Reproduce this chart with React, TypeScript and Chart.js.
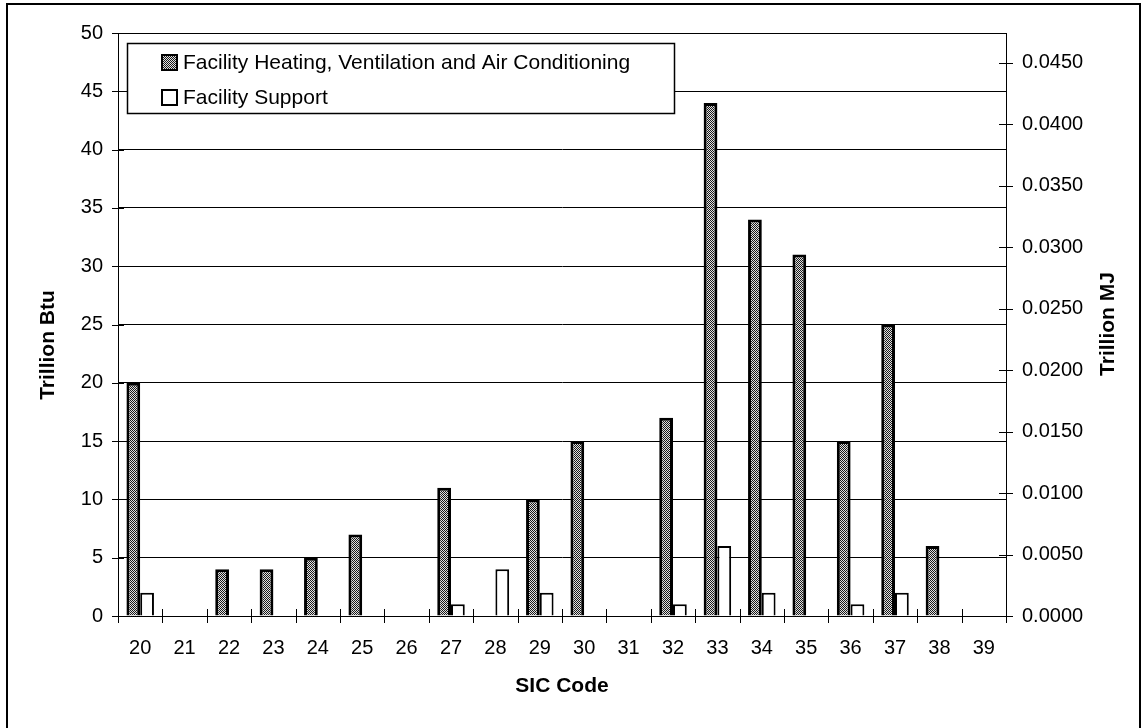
import React, { useEffect, useRef } from "react";
import { Chart, registerables } from "chart.js";

Chart.register(...registerables);

const categories = ["20","21","22","23","24","25","26","27","28","29","30","31","32","33","34","35","36","37","38","39"];
const heatingValues: (number | null)[] = [20, null, 4, 4, 5, 7, null, 11, null, 10, 15, null, 17, 44, 34, 31, 15, 25, 6, null];
const supportValues: (number | null)[] = [2, null, null, null, null, null, null, 1, 4, 2, null, null, 1, 6, 2, null, 1, 2, null, null];
const seriesLabels = ["Facility Heating, Ventilation and Air Conditioning", "Facility Support"];
const leftTicks = [0, 5, 10, 15, 20, 25, 30, 35, 40, 45, 50];
const rightTicks = [0, 0.005, 0.01, 0.015, 0.02, 0.025, 0.03, 0.035, 0.04, 0.045];

const FONT = "'Liberation Sans', Arial, sans-serif";

function makePattern(): CanvasPattern | string {
  const c = document.createElement("canvas");
  c.width = 2;
  c.height = 2;
  const g = c.getContext("2d");
  if (!g) return "#888";
  g.fillStyle = "#e0e0e0";
  g.fillRect(0, 0, 2, 2);
  g.fillStyle = "#1a1a1a";
  g.fillRect(0, 0, 1, 1);
  g.fillRect(1, 1, 1, 1);
  const p = g.createPattern(c, "repeat");
  return p || "#888";
}

export default function App() {
  const ref = useRef<HTMLCanvasElement>(null);
  useEffect(() => {
    if (!ref.current) return;
    const pattern = makePattern();
    const decor = {
      id: "decor",
      afterDraw(chart: any) {
        const ctx = chart.ctx as CanvasRenderingContext2D;
        const ca = chart.chartArea;
        const y = chart.scales.y;
        const y2 = chart.scales.y2;
        ctx.save();
        ctx.strokeStyle = "#000";
        ctx.lineWidth = 1;
        leftTicks.forEach((v) => {
          const py = Math.round(y.getPixelForValue(v)) + 0.5;
          ctx.beginPath();
          ctx.moveTo(ca.left - 6, py);
          ctx.lineTo(ca.left + 6, py);
          ctx.stroke();
        });
        rightTicks.forEach((v) => {
          const py = Math.round(y2.getPixelForValue(v)) + 0.5;
          ctx.beginPath();
          ctx.moveTo(ca.right - 7, py);
          ctx.lineTo(ca.right + 7, py);
          ctx.stroke();
        });
        const n = categories.length;
        const w = (ca.right - ca.left) / n;
        for (let i = 0; i <= n; i++) {
          const px = Math.round(ca.left + i * w) + 0.5;
          ctx.beginPath();
          ctx.moveTo(px, ca.bottom - 7);
          ctx.lineTo(px, ca.bottom + 7);
          ctx.stroke();
        }
        ctx.beginPath();
        ctx.moveTo(ca.left, ca.top + 0.5);
        ctx.lineTo(ca.right, ca.top + 0.5);
        ctx.stroke();
        // axis titles
        ctx.fillStyle = "#000";
        ctx.font = `bold 21px ${FONT}`;
        ctx.textAlign = "center";
        ctx.textBaseline = "middle";
        ctx.fillText("SIC Code", (ca.left + ca.right) / 2, 686);
        ctx.save();
        ctx.translate(48, 345);
        ctx.rotate(-Math.PI / 2);
        ctx.fillText("Trillion Btu", 0, 0);
        ctx.restore();
        ctx.save();
        ctx.translate(1108, 324);
        ctx.rotate(-Math.PI / 2);
        ctx.fillText("Trillion MJ", 0, 0);
        ctx.restore();
        // legend
        ctx.fillStyle = "#fff";
        ctx.fillRect(127, 43, 547, 70);
        ctx.lineWidth = 1.5;
        ctx.strokeRect(127.5, 43.5, 547, 70);
        ctx.fillStyle = pattern as any;
        ctx.fillRect(162, 55, 15, 15);
        ctx.lineWidth = 2;
        ctx.strokeRect(162, 55, 15, 15);
        ctx.fillStyle = "#fff";
        ctx.fillRect(162, 90, 15, 15);
        ctx.strokeRect(162, 90, 15, 15);
        ctx.fillStyle = "#000";
        ctx.font = `21px ${FONT}`;
        ctx.textAlign = "left";
        ctx.fillText(seriesLabels[0], 183, 63);
        ctx.fillText(seriesLabels[1], 183, 98);
        // outer frame
        ctx.lineWidth = 2;
        ctx.strokeRect(7, 4, 1133, 740);
        ctx.restore();
      },
    };
    const chart = new Chart(ref.current, {
      type: "bar",
      data: {
        labels: categories,
        datasets: [
          {
            label: seriesLabels[0],
            data: heatingValues,
            backgroundColor: pattern as any,
            borderColor: "#000",
            borderWidth: 3,
            yAxisID: "y",
            categoryPercentage: 0.62,
            barPercentage: 1,
          },
          {
            label: seriesLabels[1],
            data: supportValues,
            backgroundColor: "#fff",
            borderColor: "#000",
            borderWidth: 2,
            yAxisID: "y",
            categoryPercentage: 0.62,
            barPercentage: 1,
          },
        ],
      },
      options: {
        animation: false,
        responsive: false,
        layout: { padding: { top: 33, left: 0, right: 0, bottom: 0 } },
        plugins: { legend: { display: false }, tooltip: { enabled: false } },
        scales: {
          x: {
            grid: { display: false, drawTicks: false },
            border: { display: true, color: "#000", width: 1 },
            ticks: { color: "#000", font: { family: FONT, size: 20 }, padding: 20, maxRotation: 0, autoSkip: false },
            afterFit: (s: any) => { s.height = 112; },
          },
          y: {
            position: "left",
            min: 0,
            max: 50,
            afterBuildTicks: (s: any) => { s.ticks = leftTicks.map((v) => ({ value: v })); },
            grid: { color: "#000", lineWidth: 1, drawTicks: false },
            border: { display: true, color: "#000", width: 1 },
            ticks: { color: "#000", font: { family: FONT, size: 20 }, padding: 15 },
            afterFit: (s: any) => { s.width = 118; },
          },
          y2: {
            position: "right",
            min: 0,
            max: 0.0474,
            afterBuildTicks: (s: any) => { s.ticks = rightTicks.map((v) => ({ value: v })); },
            grid: { display: false, drawTicks: false },
            border: { display: true, color: "#000", width: 1 },
            ticks: {
              color: "#000",
              font: { family: FONT, size: 20 },
              padding: 16,
              callback: (v: any) => Number(v).toFixed(4),
            },
            afterFit: (s: any) => { s.width = 141; },
          },
        },
      },
      plugins: [decor],
    });
    return () => chart.destroy();
  }, []);
  return (
    <div style={{ position: "fixed", left: 0, top: 0, width: 1147, height: 728, background: "#fff" }}>
      <canvas ref={ref} width={1147} height={728} style={{ width: 1147, height: 728 }} />
    </div>
  );
}
